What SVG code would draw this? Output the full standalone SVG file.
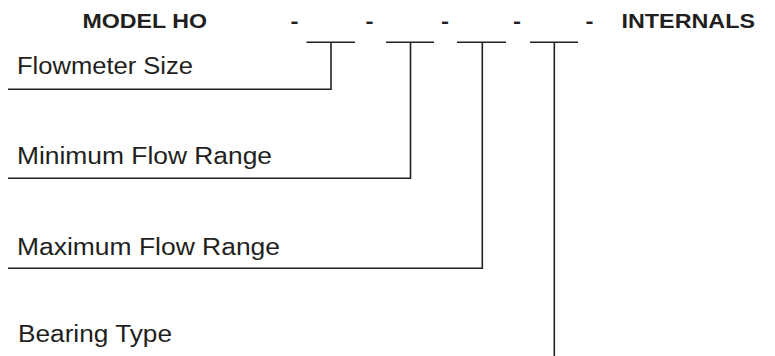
<svg xmlns="http://www.w3.org/2000/svg" width="775" height="356" viewBox="0 0 775 356">
<style>
.t{font-family:"Liberation Sans",Arial,sans-serif;font-size:23.5px;fill:#231f20}
.b{font-family:"Liberation Sans",Arial,sans-serif;font-size:20.5px;font-weight:bold;fill:#231f20}
.ln{stroke:#231f20;stroke-width:1.6;fill:none}
</style>
<rect width="775" height="356" fill="#fff"/>
<g id="header">
<text class="b" x="82.5" y="27.5" textLength="124.5" lengthAdjust="spacingAndGlyphs">MODEL HO</text>
<text class="b" x="290.5" y="27.5" textLength="8" lengthAdjust="spacingAndGlyphs">-</text>
<text class="b" x="365.5" y="27.5" textLength="8" lengthAdjust="spacingAndGlyphs">-</text>
<text class="b" x="441" y="27.5" textLength="8" lengthAdjust="spacingAndGlyphs">-</text>
<text class="b" x="513" y="27.5" textLength="8" lengthAdjust="spacingAndGlyphs">-</text>
<text class="b" x="585.5" y="27.5" textLength="8" lengthAdjust="spacingAndGlyphs">-</text>
<text class="b" x="621.5" y="27.5" textLength="133.5" lengthAdjust="spacingAndGlyphs">INTERNALS</text>
</g>
<g id="flowmeter-size">
<text class="t" x="17" y="73.5" textLength="176" lengthAdjust="spacingAndGlyphs">Flowmeter Size</text>
</g>
<g id="minimum-flow-range">
<text class="t" x="17" y="163.5" textLength="255" lengthAdjust="spacingAndGlyphs">Minimum Flow Range</text>
</g>
<g id="maximum-flow-range">
<text class="t" x="17" y="254.5" textLength="263" lengthAdjust="spacingAndGlyphs">Maximum Flow Range</text>
</g>
<g id="bearing-type">
<text class="t" x="18" y="341.5" textLength="154" lengthAdjust="spacingAndGlyphs">Bearing Type</text>
</g>
<g id="connectors">
<line class="ln" x1="306.5" y1="42.3" x2="355" y2="42.3"/>
<line class="ln" x1="386" y1="42.3" x2="434" y2="42.3"/>
<line class="ln" x1="457" y1="42.3" x2="506" y2="42.3"/>
<line class="ln" x1="530" y1="42.3" x2="578" y2="42.3"/>
<polyline class="ln" points="331,42.3 331,89.3 8,89.3"/>
<polyline class="ln" points="410.5,42.3 410.5,178.3 8,178.3"/>
<polyline class="ln" points="482.3,42.3 482.3,268.3 8,268.3"/>
<line class="ln" x1="554.3" y1="42.3" x2="554.3" y2="356"/>
</g>
</svg>
